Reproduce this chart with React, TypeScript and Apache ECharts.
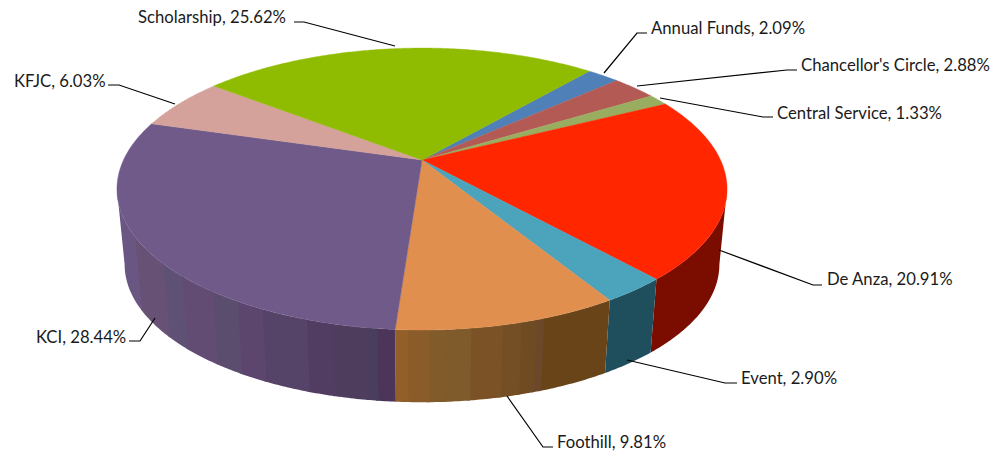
import React, { useEffect, useRef } from "react";
import * as echarts from "echarts";

const categories = ["Annual Funds", "Chancellor's Circle", "Central Service", "De Anza", "Event", "Foothill", "KCI", "KFJC", "Scholarship"];
const shares = [2.09, 2.88, 1.33, 20.91, 2.9, 9.81, 28.44, 6.03, 25.62];

const topColors = ["#4f81b8", "#b45a55", "#98ad5f", "#ff2600", "#4ba3bc", "#e08f4e", "#6f5a8a", "#d4a29b", "#8fbc00"];
const wallColors = ["#2a4a6e", "#6b2f2c", "#5a6a30", "#7a0c00", "#1f4f5c", "#6a4419", "#54406a", "#7c5c58", "#557000"];

// Stripes on the curved wall: [right-hand screen x of the band, colour]
const kciBands: [number, string][] = [[135, "#695682"], [163, "#675275"], [182, "#5f5175"], [213, "#624c74"], [238, "#5b4d6e"], [262, "#5c466e"], [307, "#564368"], [333, "#513c62"], [368, "#4f3d5e"], [378, "#493e5e"], [400, "#4b3558"]];
const foothillBands: [number, string][] = [[408, "#935f28"], [430, "#8a5c2a"], [447, "#825b2b"], [472, "#7f5a2b"], [503, "#7b5126"], [522, "#744e24"], [537, "#6f4b23"], [545, "#6d4729"], [612, "#6a4419"]];

// Label anchors and leader lines
const labelAnchors: [number, number][] = [[651, 28], [801, 65], [777, 113], [827, 279], [741, 378], [557, 442], [36, 337], [14, 81], [138, 17]];
const leaders: [number, number][][] = [
  [[604, 73], [637, 33], [647, 33]],
  [[637, 86], [787, 70], [797, 70]],
  [[660, 98], [763, 117], [773, 117]],
  [[719, 250], [813, 285], [822, 285]],
  [[627, 360], [725, 383], [737, 383]],
  [[507, 396], [543, 447], [553, 447]],
  [[155, 318], [140, 341], [129, 341]],
  [[175, 104], [119, 85], [108, 85]],
  [[395, 46], [304, 22], [294, 22]],
];

// Projected disc geometry
const startAngle = 40.4;
const persp = 0.206;
const topDisc = { cx: 422, cy: 160, a: 298.5, b: 135 };
const baseDisc = { cx: 422, cy: 236, a: 291, b: 132 };
const wallFrom = 101.9;
const wallTo = 258.1;

const total = shares.reduce((s, v) => s + v, 0);
const toRad = (d: number) => (d * Math.PI) / 180;

function project(disc: typeof topDisc, deg: number): [number, number] {
  const X = Math.sin(toRad(deg));
  const Y = Math.cos(toRad(deg));
  const w = 1 + persp * Y;
  return [disc.cx + (disc.a * X) / w, disc.cy - (disc.b * Y) / w];
}

function sliceRange(index: number, value: number): [number, number] {
  let before = 0;
  for (let i = 0; i < index; i++) before += shares[i];
  const from = startAngle + (before / total) * 360;
  return [from, from + (value / total) * 360];
}

function arc(disc: typeof topDisc, from: number, to: number): [number, number][] {
  const n = Math.max(2, Math.ceil((to - from) / 0.5));
  const pts: [number, number][] = [];
  for (let i = 0; i <= n; i++) pts.push(project(disc, from + ((to - from) * i) / n));
  return pts;
}

function renderTop(params: any, api: any) {
  const i = params.dataIndex;
  const [from, to] = sliceRange(i, api.value(0));
  return {
    type: "polygon",
    shape: { points: [[topDisc.cx, topDisc.cy], ...arc(topDisc, from, to)] },
    style: { fill: topColors[i], stroke: topColors[i], lineWidth: 0.4 },
  };
}

function bandColor(i: number, x: number): string {
  const bands = categories[i] === "KCI" ? kciBands : categories[i] === "Foothill" ? foothillBands : null;
  if (!bands) return wallColors[i];
  for (const [end, c] of bands) if (x <= end) return c;
  return bands[bands.length - 1][1];
}

function renderWall(params: any, api: any) {
  const i = params.dataIndex;
  const [rawFrom, rawTo] = sliceRange(i, api.value(0));
  const from = Math.max(rawFrom, wallFrom);
  const to = Math.min(rawTo, wallTo);
  const children: any[] = [];
  if (to <= from) return { type: "group", children };
  const step = 0.25;
  const n = Math.max(1, Math.ceil((to - from) / step));
  let segStart = from;
  let cur = bandColor(i, project(topDisc, from + step / 2)[0]);
  const flush = (end: number, color: string) => {
    const e = Math.min(end + 0.4, to);
    const t = arc(topDisc, segStart, e);
    const b = arc(baseDisc, segStart, e).reverse();
    children.push({
      type: "polygon",
      shape: { points: [...t, ...b] },
      style: { fill: color },
    });
  };
  for (let k = 0; k < n; k++) {
    const a = from + ((to - from) * k) / n;
    const e = from + ((to - from) * (k + 1)) / n;
    const c = bandColor(i, project(topDisc, (a + e) / 2)[0]);
    if (c !== cur) {
      flush(a, cur);
      segStart = a;
      cur = c;
    }
  }
  flush(to, cur);
  return { type: "group", children };
}

function renderLabel(params: any, api: any) {
  const i = params.dataIndex;
  const [x, y] = labelAnchors[i];
  return {
    type: "group",
    children: [
      {
        type: "polyline",
        shape: { points: leaders[i] },
        style: { fill: "none", stroke: "#000", lineWidth: 1.2 },
      },
      {
        type: "text",
        x,
        y,
        style: {
          text: `${categories[i]}, ${api.value(0).toFixed(2)}%`,
          fontFamily: "Lato",
          fontSize: 16.7,
          fill: "#1a1a1a",
          align: "left",
          verticalAlign: "middle",
        },
      },
    ],
  };
}

export default function App() {
  const ref = useRef<HTMLDivElement>(null);
  useEffect(() => {
    document.body.style.margin = "0";
    const chart = echarts.init(ref.current!, undefined, { renderer: "svg" });
    const data = categories.map((name, i) => ({ name, value: [shares[i]] }));
    const base = { type: "custom", coordinateSystem: "none", silent: true, clip: false, data, dimensions: ["share"] };
    chart.setOption({
      animation: false,
      backgroundColor: "#ffffff",
      series: [
        { ...base, name: "walls", z: 1, renderItem: renderWall },
        { ...base, name: "tops", z: 2, renderItem: renderTop },
        { ...base, name: "labels", z: 3, renderItem: renderLabel },
      ],
    });
    return () => chart.dispose();
  }, []);
  return <div ref={ref} style={{ width: 997, height: 451 }} />;
}
